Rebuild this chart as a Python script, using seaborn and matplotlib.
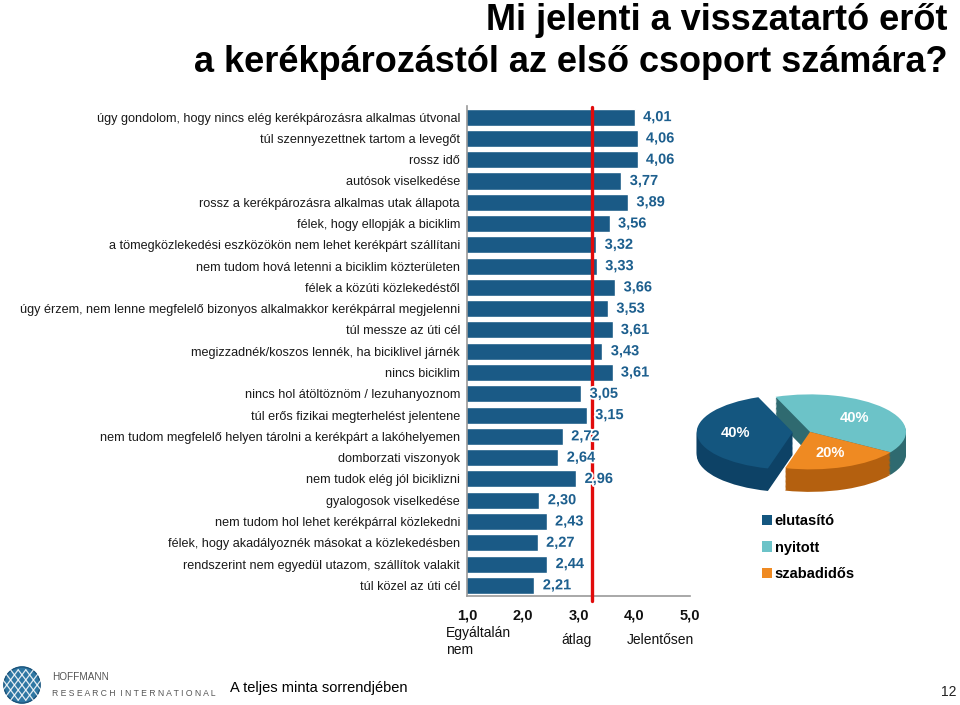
import numpy as np
import pandas as pd
import matplotlib
matplotlib.use("Agg")
import matplotlib.pyplot as plt
import matplotlib.patheffects as pe
from matplotlib.patches import Patch, Circle
import seaborn as sns

# reasons, in the order of the whole sample
categories = [
    "úgy gondolom, hogy nincs elég kerékpározásra alkalmas útvonal",
    "túl szennyezettnek tartom a levegőt",
    "rossz idő",
    "autósok viselkedése",
    "rossz a kerékpározásra alkalmas utak állapota",
    "félek, hogy ellopják a biciklim",
    "a tömegközlekedési eszközökön nem lehet kerékpárt szállítani",
    "nem tudom hová letenni a biciklim közterületen",
    "félek a közúti közlekedéstől",
    "úgy érzem, nem lenne megfelelő bizonyos alkalmakkor kerékpárral megjelenni",
    "túl messze az úti cél",
    "megizzadnék/koszos lennék, ha biciklivel járnék",
    "nincs biciklim",
    "nincs hol átöltöznöm / lezuhanyoznom",
    "túl erős fizikai megterhelést jelentene",
    "nem tudom megfelelő helyen tárolni a kerékpárt a lakóhelyemen",
    "domborzati viszonyok",
    "nem tudok elég jól biciklizni",
    "gyalogosok viselkedése",
    "nem tudom hol lehet kerékpárral közlekedni",
    "félek, hogy akadályoznék másokat a közlekedésben",
    "rendszerint nem egyedül utazom, szállítok valakit",
    "túl közel az úti cél",
]
values = [4.01, 4.06, 4.06, 3.77, 3.89, 3.56, 3.32, 3.33, 3.66, 3.53, 3.61, 3.43,
          3.61, 3.05, 3.15, 2.72, 2.64, 2.96, 2.30, 2.43, 2.27, 2.44, 2.21]
ref_line = 3.25

x_ticks = [1, 2, 3, 4, 5]
x_tick_labels = ["1,0", "2,0", "3,0", "4,0", "5,0"]

# segment pie (first group)
seg_labels = ["nyitott", "szabadidős", "elutasító"]
seg_shares = [40, 20, 40]
seg_colors = ["#6cc3c8", "#ef8a22", "#14567f"]
seg_side = ["#2f6a70", "#b4600f", "#0d4266"]
legend_order = ["elutasító", "nyitott", "szabadidős"]

bar_col = "#1a5a86"
lab_col = "#1d5f8e"

sns.set_theme(style="white")
plt.rcParams["font.family"] = ["Liberation Sans", "DejaVu Sans"]

fig = plt.figure(figsize=(9.6, 7.05), dpi=100)
W, H = 960, 705

def fx(px):
    return px / W

def fy(py):
    return 1 - py / H

# ---- bar chart
ax = fig.add_axes([fx(467), fy(596), fx(690) - fx(467), (596 - 106.5) / H])
df = pd.DataFrame({"reason": categories, "value": values})
sns.barplot(data=df, x="value", y="reason", orient="h", color=bar_col,
            saturation=1, width=0.8, ax=ax)
ax.set_xlim(1, 5)
ax.set_xlabel("")
ax.set_ylabel("")
ax.axvline(ref_line, color="#e10b0b", lw=2.4, ymin=-0.01, ymax=1.0, clip_on=False, zorder=3)

lbls = [f"{v:.2f}".replace(".", ",") for v in values]
txts = ax.bar_label(ax.containers[0], labels=lbls, padding=6, fontsize=10.5,
                    fontweight="bold", color=lab_col, zorder=4)
for t in txts:
    t.set_path_effects([pe.withStroke(linewidth=2.5, foreground="white")])

ax.set_xticks(x_ticks)
ax.set_xticklabels(x_tick_labels, fontsize=10.5, fontweight="bold", color="#111111")
ax.tick_params(axis="x", length=0, pad=9)
ax.tick_params(axis="y", length=0, pad=5, labelsize=9.1, labelcolor="#1a1a1a")
for s in ["top", "right"]:
    ax.spines[s].set_visible(False)
for s in ["left", "bottom"]:
    ax.spines[s].set_color("#9a9a9a")
    ax.spines[s].set_linewidth(1.2)
ax.grid(False)

# scale captions
fig.text(fx(446), fy(626), "Egyáltalán\nnem", fontsize=10, va="top", ha="left",
         linespacing=1.3, color="#111111")
fig.text(fx(576), fy(640), "átlag", fontsize=10, va="center", ha="center", color="#111111")
fig.text(fx(627), fy(640), "Jelentősen", fontsize=10, va="center", ha="left", color="#111111")

# ---- title
fig.text(fx(948), fy(21), "Mi jelenti a visszatartó erőt", fontsize=26, fontweight="bold",
         ha="right", va="center", color="black")
fig.text(fx(948), fy(62), "a kerékpározástól az első csoport számára?", fontsize=26,
         fontweight="bold", ha="right", va="center", color="black")

# ---- pseudo 3D pie
pax = fig.add_axes([fx(690), fy(505), fx(240), 120 / H])
depth = 0.6
n_layers = 18
for k in range(n_layers, 0, -1):
    off = -depth * k / n_layers
    pax.pie(seg_shares, colors=seg_side, startangle=111, counterclock=False,
            explode=[0, 0, 0.18], center=(0, off), radius=1.0,
            wedgeprops=dict(linewidth=0))
wedges, _, autotexts = pax.pie(seg_shares, colors=seg_colors, startangle=111,
                               counterclock=False, explode=[0, 0, 0.18],
                               radius=1.0, autopct="%d%%", pctdistance=0.6,
                               wedgeprops=dict(linewidth=0),
                               textprops=dict(color="white", fontsize=10.5,
                                              fontweight="bold"))
pax.set_aspect("auto")
pax.set_xlim(-1.25, 1.25)
pax.set_ylim(-1.95, 1.25)
pax.axis("off")

handles = [Patch(facecolor=seg_colors[seg_labels.index(n)], edgecolor="none") for n in legend_order]
leg = fig.legend(handles, legend_order, loc="upper left", bbox_to_anchor=(fx(749), fy(501)),
                 frameon=False, handlelength=0.7, handleheight=0.7, handletextpad=0.15,
                 labelspacing=0.85, prop=dict(weight="bold", size=10.5))
for t in leg.get_texts():
    t.set_color("black")

# ---- footer
fig.text(fx(230), fy(688), "A teljes minta sorrendjében", fontsize=10.5, ha="left",
         va="center", color="black")
fig.text(fx(957), fy(692), "12", fontsize=10, ha="right", va="center", color="#222222")

lax = fig.add_axes([fx(3), fy(704), fx(38), 38 / H])
lax.set_xlim(-1, 1)
lax.set_ylim(-1, 1)
lax.set_aspect("equal")
lax.add_patch(Circle((0, 0), 0.95, color="#2f77a3"))
for a in np.linspace(-0.8, 0.8, 5):
    lax.plot([a - 0.6, a + 0.6], [-0.8, 0.8], color="white", lw=0.9, alpha=0.85)
    lax.plot([a - 0.6, a + 0.6], [0.8, -0.8], color="white", lw=0.9, alpha=0.85)
lax.add_patch(Circle((0, 0), 0.95, fill=False, ec="#1b4f75", lw=0.8))
lax.axis("off")
fig.text(fx(52), fy(677), "HOFFMANN", fontsize=7.2, color="#555555", ha="left", va="center")
fig.text(fx(52), fy(693), "R E S E A R C H  I N T E R N A T I O N A L",
         fontsize=6.2, color="#555555", ha="left", va="center")

fig.savefig("out.png", dpi=100, facecolor="white")
